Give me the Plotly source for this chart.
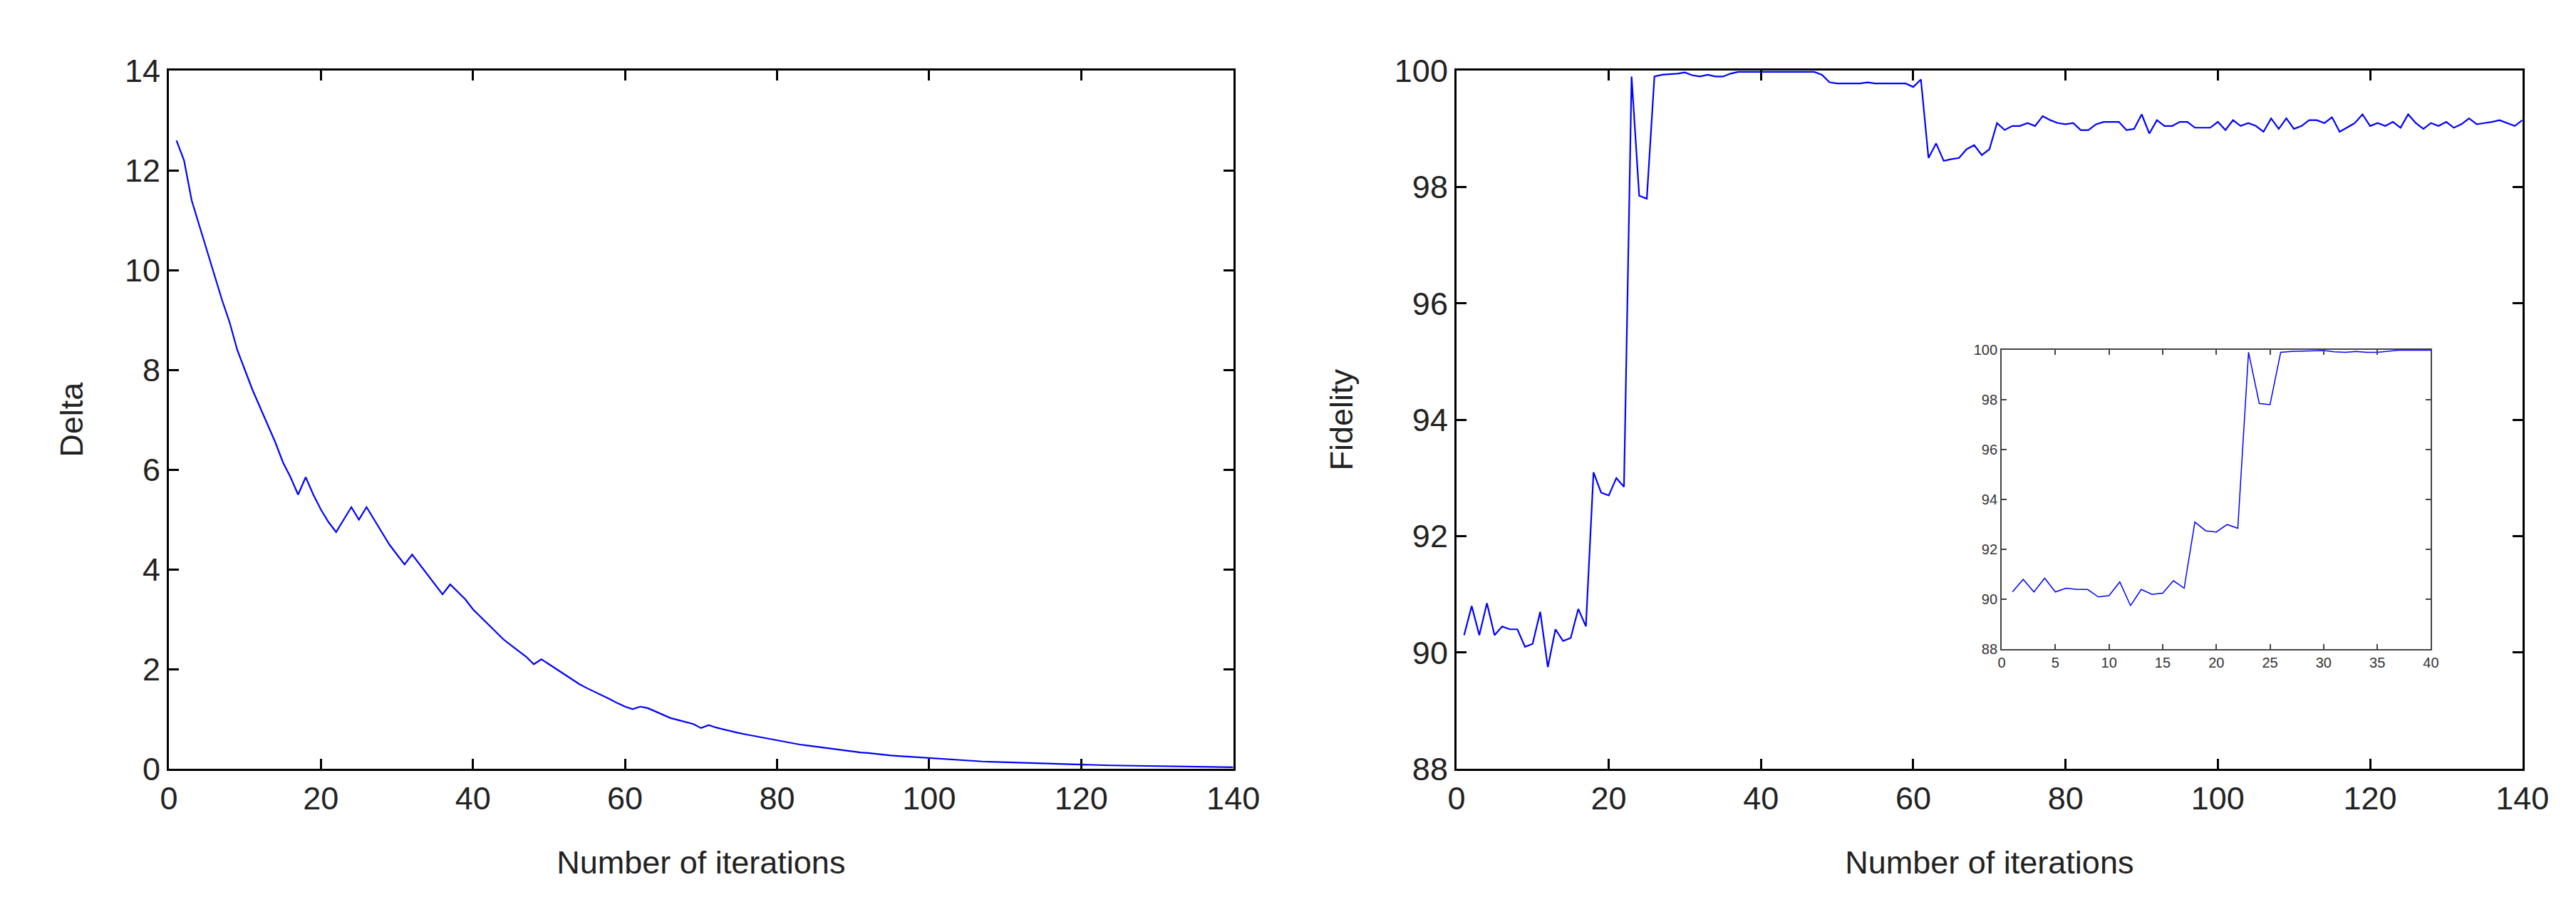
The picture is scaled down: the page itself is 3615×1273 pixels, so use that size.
import plotly.graph_objects as go

iterations = list(range(1, 141))

delta = [12.6, 12.2, 11.4, 10.9, 10.4, 9.9, 9.4, 8.95, 8.4, 8.0,
         7.6, 7.25, 6.9, 6.55, 6.15, 5.85, 5.5, 5.85, 5.5, 5.2,
         4.95, 4.75, 5.0, 5.25, 5.0, 5.25, 5.0, 4.75, 4.5, 4.3,
         4.1, 4.3, 4.1, 3.9, 3.7, 3.5, 3.7, 3.55, 3.4, 3.2,
         3.05, 2.9, 2.75, 2.6, 2.48, 2.36, 2.25, 2.1, 2.2, 2.1,
         2.0, 1.9, 1.8, 1.7, 1.62, 1.55, 1.47, 1.4, 1.32, 1.25,
         1.2, 1.25, 1.22, 1.15, 1.08, 1.02, 0.98, 0.94, 0.9, 0.82,
         0.88, 0.83, 0.79, 0.75, 0.72, 0.69, 0.66, 0.63, 0.6, 0.57,
         0.55, 0.52, 0.49, 0.47, 0.45, 0.42, 0.4, 0.38, 0.37, 0.35,
         0.33, 0.32, 0.3, 0.29, 0.27, 0.26, 0.25, 0.24, 0.22, 0.21,
         0.2, 0.19, 0.18, 0.17, 0.165, 0.16, 0.15, 0.145, 0.14, 0.13,
         0.125, 0.12, 0.115, 0.11, 0.105, 0.1, 0.095, 0.09, 0.088, 0.085,
         0.08, 0.078, 0.075, 0.072, 0.07, 0.06, 0.058, 0.055, 0.052, 0.05,
         0.048, 0.046, 0.044, 0.042, 0.04, 0.038, 0.036, 0.035, 0.034, 0.033]

fidelity = [90.3, 90.8, 90.3, 90.85, 90.3, 90.45, 90.4, 90.4, 90.1, 90.15,
            90.7, 89.75, 90.4, 90.2, 90.25, 90.75, 90.45, 93.1, 92.75, 92.7,
            93.0, 92.85, 99.9, 97.85, 97.8, 99.9, 99.93, 99.94, 99.95, 99.97,
            99.92, 99.9, 99.93, 99.9, 99.9, 99.95, 99.98, 99.98, 99.98, 99.98,
            99.98, 99.98, 99.98, 99.98, 99.98, 99.98, 99.98, 99.93, 99.8, 99.78,
            99.78, 99.78, 99.78, 99.8, 99.78, 99.78, 99.78, 99.78, 99.78, 99.72,
            99.85, 98.5, 98.75, 98.45, 98.48, 98.5, 98.65, 98.72, 98.55, 98.65,
            99.1, 98.98, 99.05, 99.05, 99.1, 99.05, 99.22, 99.15, 99.1, 99.08,
            99.1, 98.98, 98.98, 99.08, 99.12, 99.12, 99.12, 98.98, 99.0, 99.25,
            98.92, 99.15, 99.05, 99.05, 99.12, 99.12, 99.02, 99.02, 99.02, 99.12,
            98.98, 99.15, 99.05, 99.1, 99.05, 98.95, 99.18, 99.0, 99.18, 99.0,
            99.05, 99.15, 99.15, 99.1, 99.2, 98.95, 99.02, 99.1, 99.25, 99.05,
            99.1, 99.05, 99.12, 99.02, 99.25, 99.1, 99.0, 99.1, 99.05, 99.12,
            99.02, 99.08, 99.18, 99.08, 99.1, 99.12, 99.15, 99.1, 99.05, 99.15]

inset_n = 40

font = "Liberation Sans, Arial, sans-serif"

fig = go.Figure()
fig.add_trace(go.Scatter(x=iterations, y=delta, mode="lines",
                         line=dict(color="#0000ff", width=2.2), xaxis="x", yaxis="y"))
fig.add_trace(go.Scatter(x=iterations, y=fidelity, mode="lines",
                         line=dict(color="#0000ff", width=2.2), xaxis="x2", yaxis="y2"))
fig.add_trace(go.Scatter(x=iterations[:inset_n], y=fidelity[:inset_n], mode="lines",
                         line=dict(color="#0000ff", width=1.5), xaxis="x3", yaxis="y3"))

big = dict(showgrid=False, zeroline=False, showline=True, linecolor="black", linewidth=3,
           mirror="ticks", ticks="inside", ticklen=14, tickwidth=3, tickcolor="black",
           tickfont=dict(size=45, color="#222"), title_font=dict(size=45, color="#222"))
small = dict(showgrid=False, zeroline=False, showline=True, linecolor="#444", linewidth=2,
             mirror="ticks", ticks="inside", ticklen=7, tickwidth=1.5, tickcolor="#444",
             tickfont=dict(size=20, color="#333"))

fig.update_layout(
    width=3615, height=1273, showlegend=False,
    plot_bgcolor="white", paper_bgcolor="white",
    margin=dict(l=0, r=0, t=0, b=0),
    font=dict(family=font),
    xaxis=dict(domain=[0.0606, 0.4797], anchor="y", range=[0, 140], dtick=20,
               title=dict(text="Number of iterations", standoff=50), **big),
    yaxis=dict(domain=[0.1438, 0.9458], anchor="x", range=[0, 14], dtick=2,
               title=dict(text="Delta", standoff=45), **big),
    xaxis2=dict(domain=[0.5676, 0.9873], anchor="y2", range=[0, 140], dtick=20,
                title=dict(text="Number of iterations", standoff=50), **big),
    yaxis2=dict(domain=[0.1438, 0.9458], anchor="x2", range=[88, 100], dtick=2,
                title=dict(text="Fidelity", standoff=45), **big),
    xaxis3=dict(domain=[0.7823, 0.9513], anchor="y3", range=[0, 40], dtick=5, **small),
    yaxis3=dict(domain=[0.2812, 0.6253], anchor="x3", range=[88, 100], dtick=2, **small),
)

fig.write_html("out.html")
